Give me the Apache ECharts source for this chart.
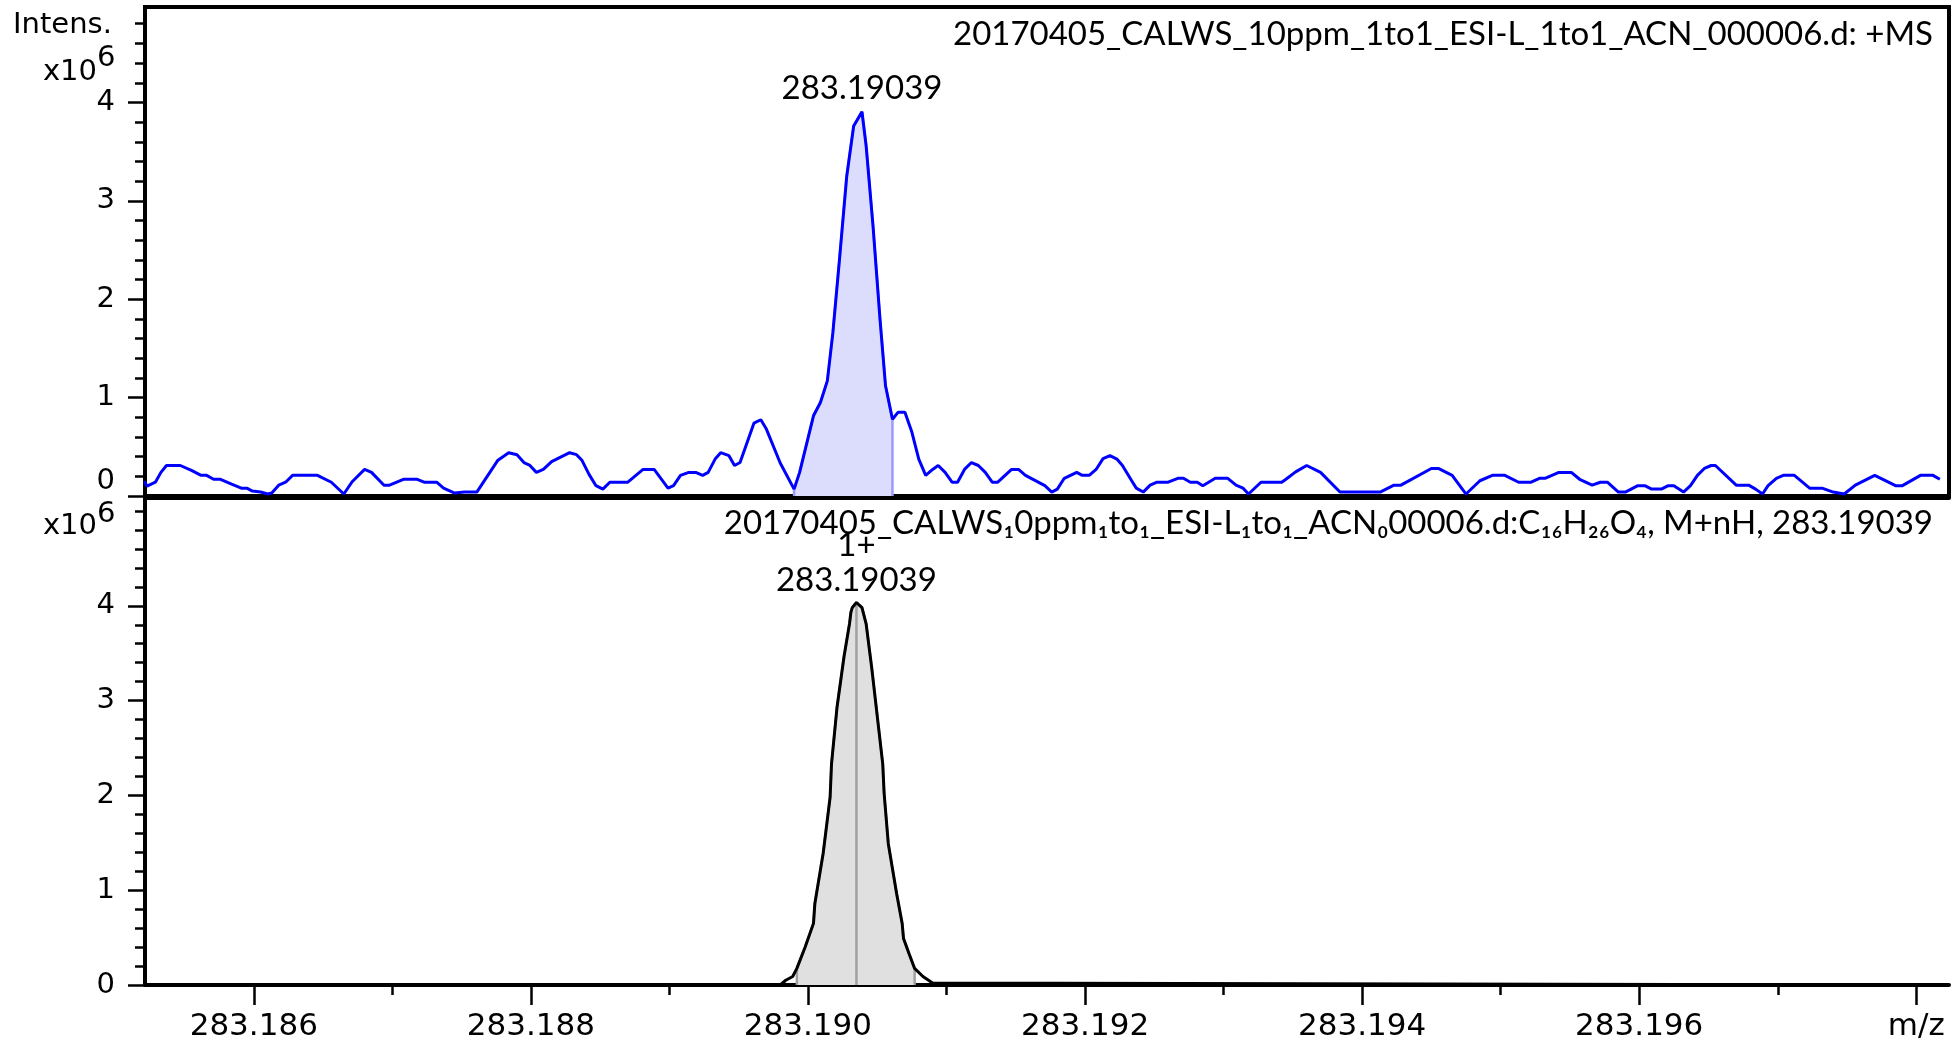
<!DOCTYPE html>
<html>
<head>
<meta charset="utf-8">
<title>283.19039 +MS</title>
<script src="https://cdn.jsdelivr.net/npm/echarts@6/dist/echarts.min.js"></script>
</head>
<body style="margin:0; background:#fff">
<div id="chart" style="width:1960px; height:1047px"></div>
<script>
// measured profile spectrum, m/z vs intensity (x10^6)
const msMz = [
  283.18521, 283.18523, 283.18529, 283.18533, 283.18537, 283.18547, 283.18555, 283.18562, 283.18566, 283.18571,
  283.18576, 283.18584, 283.18591, 283.18595, 283.18599, 283.18605, 283.18610, 283.18613, 283.18618, 283.18623,
  283.18628, 283.18646, 283.18656, 283.18665, 283.18671, 283.18680, 283.18685, 283.18694, 283.18698, 283.18708,
  283.18718, 283.18723, 283.18732, 283.18737, 283.18745, 283.18752, 283.18761, 283.18776, 283.18784, 283.18790,
  283.18795, 283.18799, 283.18804, 283.18809, 283.18815, 283.18828, 283.18833, 283.18837, 283.18842, 283.18847,
  283.18852, 283.18857, 283.18870, 283.18881, 283.18889, 283.18899, 283.18903, 283.18908, 283.18914, 283.18919,
  283.18924, 283.18928, 283.18933, 283.18937, 283.18943, 283.18947, 283.18951, 283.18961, 283.18966, 283.18970,
  283.18980, 283.18990, 283.18994, 283.19004, 283.19009, 283.19014, 283.19018, 283.19023, 283.19028, 283.19033,
  283.19039, 283.19042, 283.19047, 283.19052, 283.19056, 283.19061, 283.19065, 283.19070, 283.19075, 283.19080,
  283.19085, 283.19090, 283.19094, 283.19099, 283.19104, 283.19108, 283.19113, 283.19118, 283.19123, 283.19128,
  283.19133, 283.19137, 283.19147, 283.19152, 283.19157, 283.19171, 283.19176, 283.19180, 283.19185, 283.19194,
  283.19198, 283.19203, 283.19208, 283.19213, 283.19218, 283.19223, 283.19227, 283.19233, 283.19237, 283.19242,
  283.19247, 283.19252, 283.19260, 283.19267, 283.19271, 283.19276, 283.19281, 283.19285, 283.19294, 283.19303,
  283.19309, 283.19314, 283.19318, 283.19327, 283.19342, 283.19345, 283.19352, 283.19360, 283.19370, 283.19384,
  283.19413, 283.19423, 283.19428, 283.19450, 283.19455, 283.19465, 283.19475, 283.19485, 283.19494, 283.19503,
  283.19513, 283.19522, 283.19528, 283.19532, 283.19542, 283.19551, 283.19557, 283.19566, 283.19572, 283.19577,
  283.19585, 283.19590, 283.19599, 283.19604, 283.19609, 283.19616, 283.19621, 283.19625, 283.19632, 283.19637,
  283.19642, 283.19647, 283.19652, 283.19655, 283.19670, 283.19679, 283.19684, 283.19689, 283.19693, 283.19699,
  283.19704, 283.19712, 283.19723, 283.19732, 283.19740, 283.19748, 283.19756, 283.19770, 283.19785, 283.19790,
  283.19803, 283.19812, 283.19817
];
const msInt = [
  0.15, 0.10, 0.14, 0.24, 0.31, 0.31, 0.26, 0.21, 0.21, 0.17,
  0.17, 0.12, 0.08, 0.08, 0.05, 0.04, 0.02, 0.03, 0.11, 0.14,
  0.21, 0.21, 0.14, 0.02, 0.145, 0.27, 0.24, 0.11, 0.11, 0.17,
  0.17, 0.14, 0.14, 0.08, 0.03, 0.04, 0.04, 0.36, 0.44, 0.42,
  0.34, 0.315, 0.24, 0.27, 0.35, 0.44, 0.42, 0.36, 0.22, 0.105,
  0.07, 0.14, 0.14, 0.27, 0.27, 0.08, 0.105, 0.21, 0.24, 0.24,
  0.21, 0.24, 0.375, 0.44, 0.41, 0.31, 0.34, 0.74, 0.775, 0.68,
  0.335, 0.07, 0.24, 0.815, 0.95, 1.17, 1.66, 2.44, 3.25, 3.76,
  3.905, 3.56, 2.74, 1.80, 1.12, 0.78, 0.85, 0.85, 0.65, 0.375,
  0.21, 0.27, 0.31, 0.24, 0.14, 0.14, 0.27, 0.34, 0.31, 0.24,
  0.14, 0.14, 0.27, 0.27, 0.21, 0.105, 0.04, 0.07, 0.18, 0.24,
  0.21, 0.21, 0.27, 0.38, 0.41, 0.375, 0.31, 0.17, 0.08, 0.04,
  0.11, 0.14, 0.14, 0.18, 0.18, 0.14, 0.14, 0.105, 0.18, 0.18,
  0.11, 0.08, 0.02, 0.14, 0.14, 0.17, 0.245, 0.31, 0.24, 0.04,
  0.04, 0.11, 0.11, 0.28, 0.28, 0.21, 0.02, 0.155, 0.21, 0.21,
  0.14, 0.14, 0.18, 0.18, 0.24, 0.24, 0.17, 0.11, 0.14, 0.14,
  0.04, 0.04, 0.105, 0.105, 0.07, 0.07, 0.105, 0.105, 0.04, 0.105,
  0.21, 0.28, 0.31, 0.31, 0.11, 0.11, 0.07, 0.02, 0.105, 0.18,
  0.21, 0.21, 0.08, 0.08, 0.04, 0.02, 0.11, 0.21, 0.105, 0.105,
  0.21, 0.21, 0.17
];
// simulated isotope pattern C16H26O4, M+nH
const simMz = [
  283.18909, 283.18980, 283.18984, 283.18989, 283.18992, 283.18998, 283.19004, 283.19005, 283.19011, 283.19016,
  283.19017, 283.19021, 283.19026, 283.19030, 283.19031, 283.19032, 283.19035, 283.19039, 283.19042, 283.19046,
  283.19054, 283.19055, 283.19058, 283.19064, 283.19068, 283.19069, 283.19073, 283.19077, 283.19083, 283.19090,
  283.19091, 283.19810
];
const simInt = [
  0, 0, 0.05, 0.09, 0.175, 0.40, 0.65, 0.86, 1.39, 1.98,
  2.33, 2.93, 3.46, 3.81, 3.93, 3.98, 4.035, 3.98, 3.81, 3.35,
  2.33, 2.02, 1.49, 0.965, 0.65, 0.49, 0.33, 0.175, 0.09, 0.02,
  0, 0
];
const peakLabel = 283.19039;
const chargeLabel = '1+';
const msFillRange = [283.18990, 283.19061];
const simFillRange = [283.18992, 283.19077];

const xMajorTicks = [283.186, 283.188, 283.190, 283.192, 283.194, 283.196, 283.198];
const xMinorTicks = [283.187, 283.189, 283.191, 283.193, 283.195, 283.197];
const yMajorTicks = [0, 1, 2, 3, 4];
const yMinorTicksTop = [0.2, 0.4, 0.6, 0.8, 1.2, 1.4, 1.6, 1.8, 2.2, 2.4, 2.6, 2.8, 3.2, 3.4, 3.6, 3.8, 4.2, 4.4, 4.6, 4.8];
const yMinorTicksBottom = yMinorTicksTop.concat([5.0]);

const topTitle = '20170405_CALWS_10ppm_1to1_ESI-L_1to1_ACN_000006.d: +MS';
const bottomTitle = '20170405_CALWS\u20810ppm\u2081to\u2081_ESI-L\u2081to\u2081_ACN\u208000006.d:C\u2081\u2086H\u2082\u2086O\u2084, M+nH, 283.19039';

const xMin = 283.185215, xMax = 283.198236;

const pairs = (xs, ys) => xs.map((x, i) => [x, ys[i]]);
const msData = pairs(msMz, msInt);
const simData = pairs(simMz, simInt);

// closed area between two data points, dropped to the baseline at both ends
function fillPart(data, range) {
  const part = data.filter(d => d[0] >= range[0] - 1e-9 && d[0] <= range[1] + 1e-9);
  return [[part[0][0], 0]].concat(part, [[part[part.length - 1][0], 0]]);
}
const argMax = arr => arr.indexOf(Math.max(...arr));
const msTop = msData[argMax(msInt)];
const simTop = simData[argMax(simInt)];

const sans = '"DejaVu Sans", "Liberation Sans", sans-serif';
const cali = 'Lato, "Open Sans", sans-serif';
const black = '#000';
const frame = { color: black, width: 4 };

function yAxes(grid, max, minor) {
  return [
    {
      gridIndex: grid, type: 'value', min: 0, max: max,
      axisLine: { show: true, lineStyle: frame },
      axisTick: { show: true, length: 17, lineStyle: { color: black, width: 2.5 }, customValues: yMajorTicks },
      axisLabel: {
        customValues: yMajorTicks, color: black, fontFamily: sans, fontSize: 29, margin: 30,
        verticalAlignMinLabel: grid === 0 ? 'bottom' : null
      },
      splitLine: { show: false }
    },
    {
      gridIndex: grid, type: 'value', min: 0, max: max, position: 'left',
      axisLine: { show: false },
      axisTick: { show: true, length: 10, lineStyle: { color: black, width: 2.5 }, customValues: minor },
      axisLabel: { show: false },
      splitLine: { show: false }
    }
  ];
}

const chart = echarts.init(document.getElementById('chart'));
chart.setOption({
  animation: false,
  backgroundColor: '#fff',
  title: [
    { text: topTitle, right: 22, top: 13, textStyle: { fontFamily: cali, fontWeight: 'normal', fontSize: 33, color: black } },
    { text: bottomTitle, right: 22, top: 502, textStyle: { fontFamily: cali, fontWeight: 'normal', fontSize: 33, color: black } }
  ],
  grid: [
    { left: 145, right: 11, top: 7, height: 489, show: true, borderColor: black, borderWidth: 4, containLabel: false },
    { left: 145, right: 11, top: 498, height: 487, show: false, containLabel: false }
  ],
  xAxis: [
    {
      gridIndex: 0, type: 'value', min: xMin, max: xMax,
      axisLine: { show: true, lineStyle: frame },
      axisTick: { show: false }, axisLabel: { show: false }, splitLine: { show: false }
    },
    {
      gridIndex: 1, type: 'value', min: xMin, max: xMax, position: 'bottom',
      axisLine: { show: true, lineStyle: frame },
      axisTick: { show: true, length: 20, lineStyle: { color: black, width: 2.5 }, customValues: xMajorTicks },
      axisLabel: {
        customValues: xMajorTicks, color: black, fontFamily: sans, fontSize: 31, margin: 26,
        formatter: v => (Math.abs(v - xMajorTicks[xMajorTicks.length - 1]) < 1e-7 ? 'm/z' : v.toFixed(3))
      },
      splitLine: { show: false }
    },
    {
      gridIndex: 1, type: 'value', min: xMin, max: xMax, position: 'bottom',
      axisLine: { show: false },
      axisTick: { show: true, length: 10, lineStyle: { color: black, width: 2.5 }, customValues: xMinorTicks },
      axisLabel: { show: false }, splitLine: { show: false }
    },
    {
      gridIndex: 1, type: 'value', min: xMin, max: xMax, position: 'top',
      axisLine: { show: true, lineStyle: frame },
      axisTick: { show: false }, axisLabel: { show: false }, splitLine: { show: false }
    }
  ],
  yAxis: yAxes(0, 4.97, yMinorTicksTop).concat(yAxes(1, 5.137, yMinorTicksBottom)),
  graphic: [
    { type: 'text', x: 13, y: 25, style: { text: 'Intens.', font: '29px ' + sans, fill: black, textAlign: 'left', textVerticalAlign: 'middle', align: 'left', verticalAlign: 'middle' } },
    { type: 'text', x: 97, y: 72, style: { text: 'x10', font: '29px ' + sans, fill: black, textAlign: 'right', textVerticalAlign: 'middle', align: 'right', verticalAlign: 'middle' } },
    { type: 'text', x: 97, y: 58, style: { text: '6', font: '29px ' + sans, fill: black, textAlign: 'left', textVerticalAlign: 'middle', align: 'left', verticalAlign: 'middle' } },
    { type: 'text', x: 97, y: 526, style: { text: 'x10', font: '29px ' + sans, fill: black, textAlign: 'right', textVerticalAlign: 'middle', align: 'right', verticalAlign: 'middle' } },
    { type: 'text', x: 97, y: 514, style: { text: '6', font: '29px ' + sans, fill: black, textAlign: 'left', textVerticalAlign: 'middle', align: 'left', verticalAlign: 'middle' } }
  ],
  series: [
    {
      type: 'line', xAxisIndex: 0, yAxisIndex: 0, data: fillPart(msData, msFillRange),
      showSymbol: false, silent: true, z: 1,
      lineStyle: { color: '#9a9aff', width: 2.5 },
      areaStyle: { color: '#dcdcfc', opacity: 1 }
    },
    {
      type: 'line', xAxisIndex: 0, yAxisIndex: 0, data: msData,
      showSymbol: false, silent: true, z: 3,
      lineStyle: { color: '#0000ff', width: 3 },
      markPoint: {
        symbol: 'circle', symbolSize: 1, silent: true,
        itemStyle: { color: 'rgba(0,0,0,0)' },
        label: {
          show: true, position: 'top', distance: 6, color: black, fontFamily: cali, fontSize: 33, lineHeight: 34,
          formatter: () => peakLabel.toFixed(5)
        },
        data: [{ coord: msTop }]
      }
    },
    {
      type: 'line', xAxisIndex: 1, yAxisIndex: 2, data: fillPart(simData, simFillRange),
      showSymbol: false, silent: true, z: 1,
      lineStyle: { color: '#a0a0a0', width: 2.5 },
      areaStyle: { color: '#e0e0e0', opacity: 1 }
    },
    {
      type: 'line', xAxisIndex: 1, yAxisIndex: 2, data: [[simTop[0], 0], simTop],
      showSymbol: false, silent: true, z: 2,
      lineStyle: { color: '#a0a0a0', width: 2.5 }
    },
    {
      type: 'line', xAxisIndex: 1, yAxisIndex: 2, data: simData,
      showSymbol: false, silent: true, z: 3,
      lineStyle: { color: black, width: 3 },
      markPoint: {
        symbol: 'circle', symbolSize: 1, silent: true,
        itemStyle: { color: 'rgba(0,0,0,0)' },
        label: {
          show: true, position: 'top', distance: 4, color: black,
          formatter: () => '{a|' + chargeLabel + '}\n{a|' + peakLabel.toFixed(5) + '}',
          rich: { a: { fontFamily: cali, fontSize: 33, lineHeight: 35, color: black } }
        },
        data: [{ coord: simTop }]
      }
    }
  ]
});
</script>
</body>
</html>
